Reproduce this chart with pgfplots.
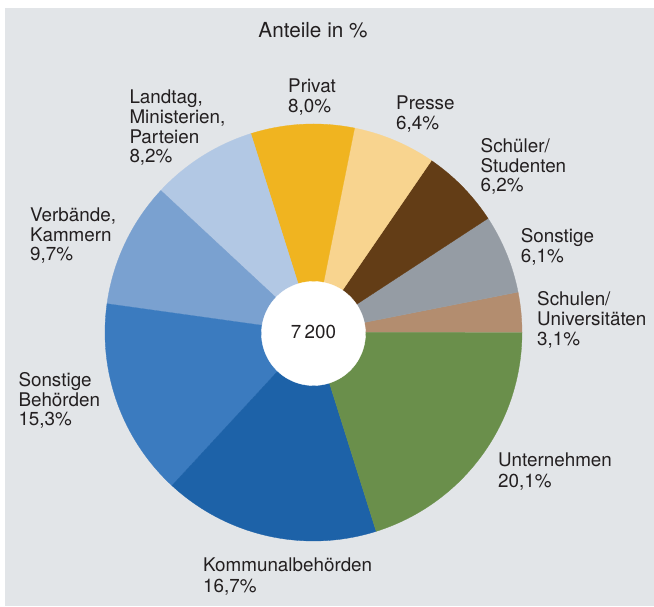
\documentclass[border=0pt]{standalone}
\usepackage{pgfplots}
\pgfplotsset{compat=1.18}
\usepackage{fontspec}
\setmainfont{TeX Gyre Heros}
\definecolor{panel}{HTML}{E2E5E8}
\definecolor{txt}{HTML}{231F20}
\definecolor{cUnt}{HTML}{6A8F4B}
\definecolor{cKom}{HTML}{1D62A8}
\definecolor{cSBe}{HTML}{3B7BBF}
\definecolor{cVer}{HTML}{7AA1D0}
\definecolor{cLan}{HTML}{B2C8E4}
\definecolor{cPri}{HTML}{F0B420}
\definecolor{cPre}{HTML}{F8D48F}
\definecolor{cSch}{HTML}{633D16}
\definecolor{cSon}{HTML}{959CA4}
\definecolor{cSUn}{HTML}{B38D6F}
\def\cx{313.5}
\def\cy{274.5}
\def\R{208.5}
\def\k{3.607214} % 360/99.8
\xdef\acc{0}
\newcommand\pieslice[2]{%
  \pgfmathsetmacro\pa{\acc*\k}%
  \pgfmathsetmacro\pb{(\acc+#1)*\k}%
  \edef\tmp{\noexpand\addplot[draw=#2,line width=0.3pt,fill=#2,domain=\pa:\pb,samples=90,variable=\noexpand\t]
     ({\cx+\R*cos(\noexpand\t)},{\cy+\R*sin(\noexpand\t)}) -- (axis cs:\cx,\cy) -- cycle;}%
  \tmp
  \pgfmathsetmacro\nacc{\acc+#1}\xdef\acc{\nacc}%
}
\newcommand\tl[3]{\node[anchor=base west,inner sep=0pt,text=txt,font=\fontsize{18.9}{20}\selectfont] at (axis cs:#1,#2) {#3};}
\begin{document}
\begin{tikzpicture}
\begin{axis}[
  width=654bp, height=607bp, scale only axis,
  xmin=0, xmax=654, ymin=0, ymax=607,
  hide axis, clip=false]
\fill[white] (axis cs:0,0) rectangle (axis cs:654,607);
\fill[panel] (axis cs:5,1) rectangle (axis cs:654,599);
% shares in %, counter-clockwise from 3 o'clock
\pieslice{3.1}{cSUn}   % Schulen/Universitaeten
\pieslice{6.1}{cSon}   % Sonstige
\pieslice{6.2}{cSch}   % Schueler/Studenten
\pieslice{6.4}{cPre}   % Presse
\pieslice{8.0}{cPri}   % Privat
\pieslice{8.2}{cLan}   % Landtag, Ministerien, Parteien
\pieslice{9.7}{cVer}   % Verbaende, Kammern
\pieslice{15.3}{cSBe}  % Sonstige Behoerden
\pieslice{16.7}{cKom}  % Kommunalbehoerden
\pieslice{20.1}{cUnt}  % Unternehmen
\addplot[draw=white,fill=white,domain=0:360,samples=120,variable=\t]
  ({313.5+52*cos(\t)},{273.5+52*sin(\t)}) -- cycle;
\node[anchor=base,inner sep=0pt,text=txt,font=\fontsize{18.9}{20}\selectfont] at (axis cs:313.5,268) {7\,200};
\node[anchor=base,inner sep=0pt,text=txt,font=\fontsize{20.8}{22}\selectfont] at (axis cs:313,569) {Anteile in \%};
\tl{288}{514.3}{Privat}
\tl{288}{494.3}{8,0\%}
\tl{396}{497.7}{Presse}
\tl{396}{477}{6,4\%}
\tl{480.5}{454.7}{Schüler/}
\tl{480.5}{434.7}{Studenten}
\tl{480.5}{415.3}{6,2\%}
\tl{520.7}{364.3}{Sonstige}
\tl{520.7}{344.3}{6,1\%}
\tl{537}{301}{Schulen/}
\tl{537}{281}{Universitäten}
\tl{537}{261}{3,1\%}
\tl{498}{140.3}{Unternehmen}
\tl{498}{119.7}{20,1\%}
\tl{203}{35}{Kommunalbehörden}
\tl{203}{15}{16,7\%}
\tl{18.3}{220.3}{Sonstige}
\tl{18.3}{200.3}{Behörden}
\tl{18.3}{181}{15,3\%}
\tl{30}{385.3}{Verbände,}
\tl{30}{365.3}{Kammern}
\tl{30}{346}{9,7\%}
\tl{129.3}{503.7}{Landtag,}
\tl{129.3}{483.7}{Ministerien,}
\tl{129.3}{463.7}{Parteien}
\tl{129.3}{444.3}{8,2\%}
\end{axis}
\end{tikzpicture}
\end{document}
